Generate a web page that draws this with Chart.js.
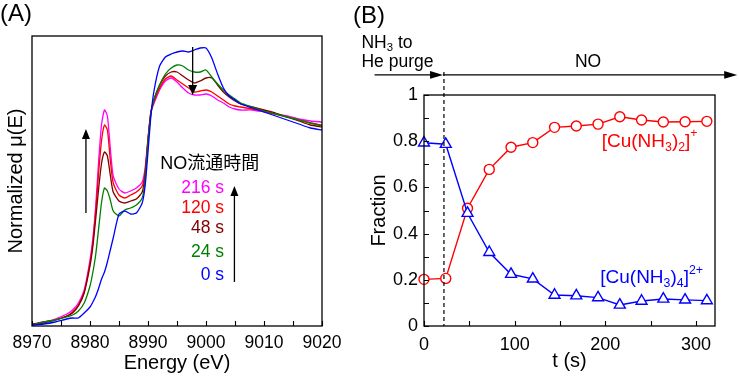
<!DOCTYPE html>
<html lang="ja">
<head>
<meta charset="utf-8">
<title>XANES / fraction</title>
<script src="https://cdn.jsdelivr.net/npm/chart.js"></script>
<style>
  body { margin: 0; background: #fff; }
  #wrap { position: relative; width: 739px; height: 377px; }
  #cA { position: absolute; left: 0; top: 0; }
  #cB { position: absolute; left: 350px; top: 0; }
</style>
</head>
<body>
<div id="wrap">
  <canvas id="cA" width="350" height="377"></canvas>
  <canvas id="cB" width="389" height="377"></canvas>
</div>
<script>
// ---- panel A : XANES, normalized mu(E) vs energy (eV)
const energy = [8970, 8972, 8974, 8976, 8977, 8978, 8979, 8980, 8980.5, 8981, 8981.5, 8982, 8982.5, 8983, 8983.5, 8984,
  8985, 8986, 8987, 8988, 8989, 8989.5, 8990, 8990.5, 8991, 8992, 8993, 8994, 8995, 8996, 8997, 8998, 8999, 9000,
  9001, 9002, 9003, 9004, 9005, 9006, 9008, 9010, 9012, 9014, 9016, 9018, 9020];
const mu0s = [-0.015, -0.01, 0, 0.015, 0.02, 0.02, 0.045, 0.075, 0.1, 0.13, 0.17, 0.215, 0.25, 0.3, 0.36, 0.42,
  0.54, 0.555, 0.54, 0.545, 0.595, 0.68, 0.85, 1.03, 1.15, 1.28, 1.325, 1.34, 1.35, 1.355, 1.35, 1.36, 1.37, 1.37,
  1.32, 1.24, 1.17, 1.13, 1.11, 1.09, 1.07, 1.05, 1.03, 1.01, 0.99, 0.97, 0.96];
const mu24s = [-0.015, 0, 0.01, 0.025, 0.035, 0.055, 0.095, 0.18, 0.25, 0.34, 0.47, 0.6, 0.67, 0.655, 0.61, 0.555,
  0.53, 0.56, 0.57, 0.585, 0.62, 0.71, 0.9, 1.04, 1.11, 1.185, 1.24, 1.27, 1.285, 1.28, 1.26, 1.25, 1.25, 1.26,
  1.225, 1.19, 1.16, 1.135, 1.115, 1.095, 1.075, 1.055, 1.04, 1.025, 1.01, 0.995, 0.98];
const mu48s = [-0.01, -0.005, 0.01, 0.03, 0.045, 0.08, 0.145, 0.28, 0.38, 0.52, 0.67, 0.795, 0.85, 0.83, 0.735, 0.65,
  0.605, 0.595, 0.605, 0.615, 0.65, 0.735, 0.91, 1.05, 1.11, 1.185, 1.23, 1.25, 1.25, 1.23, 1.21, 1.195, 1.205, 1.22,
  1.22, 1.185, 1.15, 1.125, 1.105, 1.09, 1.075, 1.06, 1.045, 1.025, 1.005, 0.985, 0.975];
const mu120s = [-0.015, 0, 0.01, 0.03, 0.05, 0.085, 0.15, 0.295, 0.4, 0.56, 0.75, 0.91, 0.985, 0.96, 0.81, 0.695,
  0.635, 0.62, 0.635, 0.65, 0.68, 0.75, 0.91, 1.05, 1.1, 1.17, 1.215, 1.23, 1.21, 1.19, 1.17, 1.15, 1.155, 1.16,
  1.15, 1.13, 1.11, 1.09, 1.08, 1.075, 1.065, 1.055, 1.04, 1.025, 1.01, 0.995, 0.985];
const mu216s = [-0.01, 0, 0.015, 0.04, 0.06, 0.095, 0.16, 0.31, 0.42, 0.585, 0.81, 0.99, 1.06, 1.03, 0.87, 0.73,
  0.665, 0.645, 0.655, 0.67, 0.7, 0.77, 0.92, 1.05, 1.09, 1.16, 1.205, 1.22, 1.2, 1.17, 1.145, 1.135, 1.135, 1.14,
  1.13, 1.11, 1.095, 1.075, 1.065, 1.06, 1.06, 1.05, 1.04, 1.03, 1.015, 1.005, 1.0];
const seriesA = [
  { label: '0 s', data: mu0s, color: '#0000ff' },
  { label: '24 s', data: mu24s, color: '#008000' },
  { label: '48 s', data: mu48s, color: '#800000' },
  { label: '120 s', data: mu120s, color: '#ff0000' },
  { label: '216 s', data: mu216s, color: '#ff00ff' }
];
const energyLabels = [8970, 8980, 8990, 9000, 9010, 9020];

// ---- panel B : fractions vs t (s)
const timeB = [0, 24, 48, 72, 96, 120, 144, 168, 192, 216, 240, 264, 288, 312];
const fracCu2 = [0.202, 0.206, 0.51, 0.678, 0.774, 0.794, 0.86, 0.866, 0.874, 0.906, 0.892, 0.883, 0.884, 0.886];
const fracCu4 = [0.793, 0.787, 0.488, 0.319, 0.224, 0.204, 0.134, 0.131, 0.123, 0.091, 0.108, 0.117, 0.113, 0.11];
const timeLabels = [0, 100, 200, 300];
const fracLabels = ['0', '0.2', '0.4', '0.6', '0.8', '1'];

Chart.defaults.font.family = '"Liberation Sans", Arial, sans-serif';
Chart.defaults.color = '#000';
const FONT = '"Liberation Sans", Arial, "Noto Sans CJK JP", sans-serif';

function pts(xs, ys) { return xs.map(function (x, i) { return { x: x, y: ys[i] }; }); }

// texte avec indices / exposants : parts = [[texte, 0 normal | 1 indice | 2 exposant]]
function richText(ctx, parts, x, y, size, color, align) {
  ctx.save();
  ctx.fillStyle = color;
  ctx.textBaseline = 'middle';
  let w = 0;
  parts.forEach(function (p) { ctx.font = (p[1] ? size * 0.65 : size) + 'px ' + FONT; w += ctx.measureText(p[0]).width; });
  let cx = align === 'right' ? x - w : (align === 'center' ? x - w / 2 : x);
  ctx.textAlign = 'left';
  parts.forEach(function (p) {
    const s = p[1] ? size * 0.65 : size;
    ctx.font = s + 'px ' + FONT;
    const dy = p[1] === 1 ? size * 0.3 : (p[1] === 2 ? -size * 0.42 : 0);
    ctx.fillText(p[0], cx, y + dy);
    cx += ctx.measureText(p[0]).width;
  });
  ctx.restore();
}

function arrow(ctx, x1, y1, x2, y2, len, half) {
  const a = Math.atan2(y2 - y1, x2 - x1), c = Math.cos(a), s = Math.sin(a);
  ctx.beginPath();
  ctx.moveTo(x1, y1);
  ctx.lineTo(x2 - c * len * 0.7, y2 - s * len * 0.7);
  ctx.stroke();
  ctx.beginPath();
  ctx.moveTo(x2, y2);
  ctx.lineTo(x2 - c * len + s * half, y2 - s * len - c * half);
  ctx.lineTo(x2 - c * len - s * half, y2 - s * len + c * half);
  ctx.closePath();
  ctx.fill();
}

// cadre + graduations vers l'interieur
function frame(withY) {
  return {
    id: 'frame',
    afterDatasetsDraw(chart) {
      const ctx = chart.ctx, a = chart.chartArea, sx = chart.scales.x, sy = chart.scales.y;
      ctx.save();
      ctx.strokeStyle = '#000';
      ctx.lineWidth = 1.3;
      ctx.strokeRect(a.left, a.top, a.right - a.left, a.bottom - a.top);
      ctx.lineWidth = 1.1;
      ctx.beginPath();
      sx.ticks.forEach(function (t) {
        const px = Math.round(sx.getPixelForValue(t.value)) + 0.5;
        ctx.moveTo(px, a.bottom); ctx.lineTo(px, a.bottom - 5);
      });
      if (withY) sy.ticks.forEach(function (t) {
        const py = Math.round(sy.getPixelForValue(t.value)) + 0.5;
        ctx.moveTo(a.left, py); ctx.lineTo(a.left + 5, py);
      });
      ctx.stroke();
      ctx.restore();
    }
  };
}

const notesA = {
  id: 'notesA',
  afterDraw(chart) {
    const ctx = chart.ctx, sx = chart.scales.x, sy = chart.scales.y;
    const X = function (v) { return sx.getPixelForValue(v); }, Y = function (v) { return sy.getPixelForValue(v); };
    ctx.save();
    ctx.strokeStyle = '#000'; ctx.fillStyle = '#000'; ctx.lineWidth = 1.3;
    arrow(ctx, X(8979.3), Y(0.545), X(8979.3), Y(0.965), 10, 4);
    arrow(ctx, X(8997.7), Y(1.375), X(8997.7), Y(1.135), 10, 4.5);
    arrow(ctx, X(9004.9), Y(0.2), X(9004.9), Y(0.68), 10, 4);
    richText(ctx, [['NO流通時間', 0]], X(8992.1), Y(0.79), 18, '#000', 'left');
    const ys = [0.235, 0.35, 0.4675, 0.57, 0.67];
    seriesA.forEach(function (s, i) { richText(ctx, [[s.label, 0]], X(9003.1), Y(ys[i]), 17.5, s.color, 'right'); });
    richText(ctx, [['(A)', 0]], 0, 14, 24, '#000', 'left');
    ctx.restore();
  }
};

const notesB = {
  id: 'notesB',
  afterDraw(chart) {
    const ctx = chart.ctx, sx = chart.scales.x, sy = chart.scales.y;
    const X = function (v) { return sx.getPixelForValue(v); }, Y = function (v) { return sy.getPixelForValue(v); };
    ctx.save();
    ctx.strokeStyle = '#000'; ctx.fillStyle = '#000'; ctx.lineWidth = 1.2;
    ctx.setLineDash([4, 3]);
    ctx.beginPath();
    ctx.moveTo(X(22), Y(1.1)); ctx.lineTo(X(22), Y(0));
    ctx.stroke();
    ctx.setLineDash([]);
    arrow(ctx, X(-54.5), Y(1.087), X(21), Y(1.087), 13, 3.8);
    arrow(ctx, X(21), Y(1.087), X(345.5), Y(1.087), 13, 3.8);
    richText(ctx, [['NH', 0], ['3', 1], [' to', 0]], X(-69), Y(1.225), 17.5, '#000', 'left');
    richText(ctx, [['He purge', 0]], X(-69), Y(1.143), 17.5, '#000', 'left');
    richText(ctx, [['NO', 0]], X(181), Y(1.143), 17.5, '#000', 'center');
    richText(ctx, [['[Cu(NH', 0], ['3', 1], [')', 0], ['2', 1], [']', 0], ['+', 2]], X(196), Y(0.798), 19, '#ff0000', 'left');
    richText(ctx, [['[Cu(NH', 0], ['3', 1], [')', 0], ['4', 1], [']', 0], ['2+', 2]], X(194.4), Y(0.207), 19, '#0000ff', 'left');
    richText(ctx, [['(B)', 0]], 3, 16, 24, '#000', 'left');
    ctx.restore();
  }
};

new Chart(document.getElementById('cA'), {
  type: 'line',
  data: {
    datasets: seriesA.map(function (s) {
      return { label: s.label, data: pts(energy, s.data), borderColor: s.color, borderWidth: 1.3,
        pointRadius: 0, tension: 0.2, fill: false };
    })
  },
  options: {
    responsive: false, animation: false, devicePixelRatio: 1,
    layout: { padding: { left: 0, top: 36, right: 28, bottom: 0 } },
    plugins: { legend: { display: false }, tooltip: { enabled: false } },
    scales: {
      x: {
        type: 'linear', min: 8970, max: 9020,
        grid: { display: false, drawTicks: false }, border: { display: false },
        ticks: { stepSize: 5, autoSkip: false, maxRotation: 0, minRotation: 0, padding: 7,
          font: { size: 17.5 },
          callback: function (v) { return energyLabels.indexOf(v) >= 0 ? String(v) : ''; } },
        title: { display: true, text: 'Energy (eV)', font: { size: 20 }, padding: { top: 0, bottom: 2 } },
        afterFit: function (s) { s.height = 51; }
      },
      y: {
        min: -0.02, max: 1.43,
        grid: { display: false, drawTicks: false }, border: { display: false },
        ticks: { display: false },
        title: { display: true, text: 'Normalized μ(E)', font: { size: 20 }, padding: { top: 4, bottom: 0 } },
        afterFit: function (s) { s.width = 32; }
      }
    }
  },
  plugins: [frame(false), notesA]
});

new Chart(document.getElementById('cB'), {
  type: 'line',
  data: {
    datasets: [
      { label: '[Cu(NH3)4]2+', data: pts(timeB, fracCu4), order: 0, borderColor: '#0000ff', borderWidth: 1.4,
        pointStyle: 'triangle', pointRadius: 6.3, pointBorderWidth: 1.4, pointBackgroundColor: '#fff',
        pointBorderColor: '#0000ff', tension: 0, clip: false },
      { label: '[Cu(NH3)2]+', data: pts(timeB, fracCu2), order: 1, borderColor: '#ff0000', borderWidth: 1.4,
        pointStyle: 'circle', pointRadius: 5, pointBorderWidth: 1.4, pointBackgroundColor: '#fff',
        pointBorderColor: '#ff0000', tension: 0, clip: false }
    ]
  },
  options: {
    responsive: false, animation: false, devicePixelRatio: 1,
    layout: { padding: { left: 0, top: 95, right: 24, bottom: 0 } },
    plugins: { legend: { display: false }, tooltip: { enabled: false } },
    scales: {
      x: {
        type: 'linear', min: 0, max: 321,
        grid: { display: false, drawTicks: false }, border: { display: false },
        ticks: { stepSize: 50, includeBounds: false, autoSkip: false, maxRotation: 0, minRotation: 0, padding: 8,
          font: { size: 18 },
          callback: function (v) { return timeLabels.indexOf(v) >= 0 ? String(v) : ''; } },
        title: { display: true, text: 't (s)', font: { size: 20 }, padding: { top: 0, bottom: 4 } },
        afterFit: function (s) { s.height = 51; }
      },
      y: {
        min: 0, max: 1,
        grid: { display: false, drawTicks: false }, border: { display: false },
        ticks: { stepSize: 0.1, autoSkip: false, padding: 6, font: { size: 18 },
          callback: function (v) {
            const k = Math.round(v * 10);
            return k % 2 === 0 ? fracLabels[k / 2] : '';
          } },
        title: { display: true, text: 'Fraction', font: { size: 20 }, padding: { top: 17, bottom: 0 } },
        afterFit: function (s) { s.width = 74; }
      }
    }
  },
  plugins: [frame(true), notesB]
});
</script>
</body>
</html>
